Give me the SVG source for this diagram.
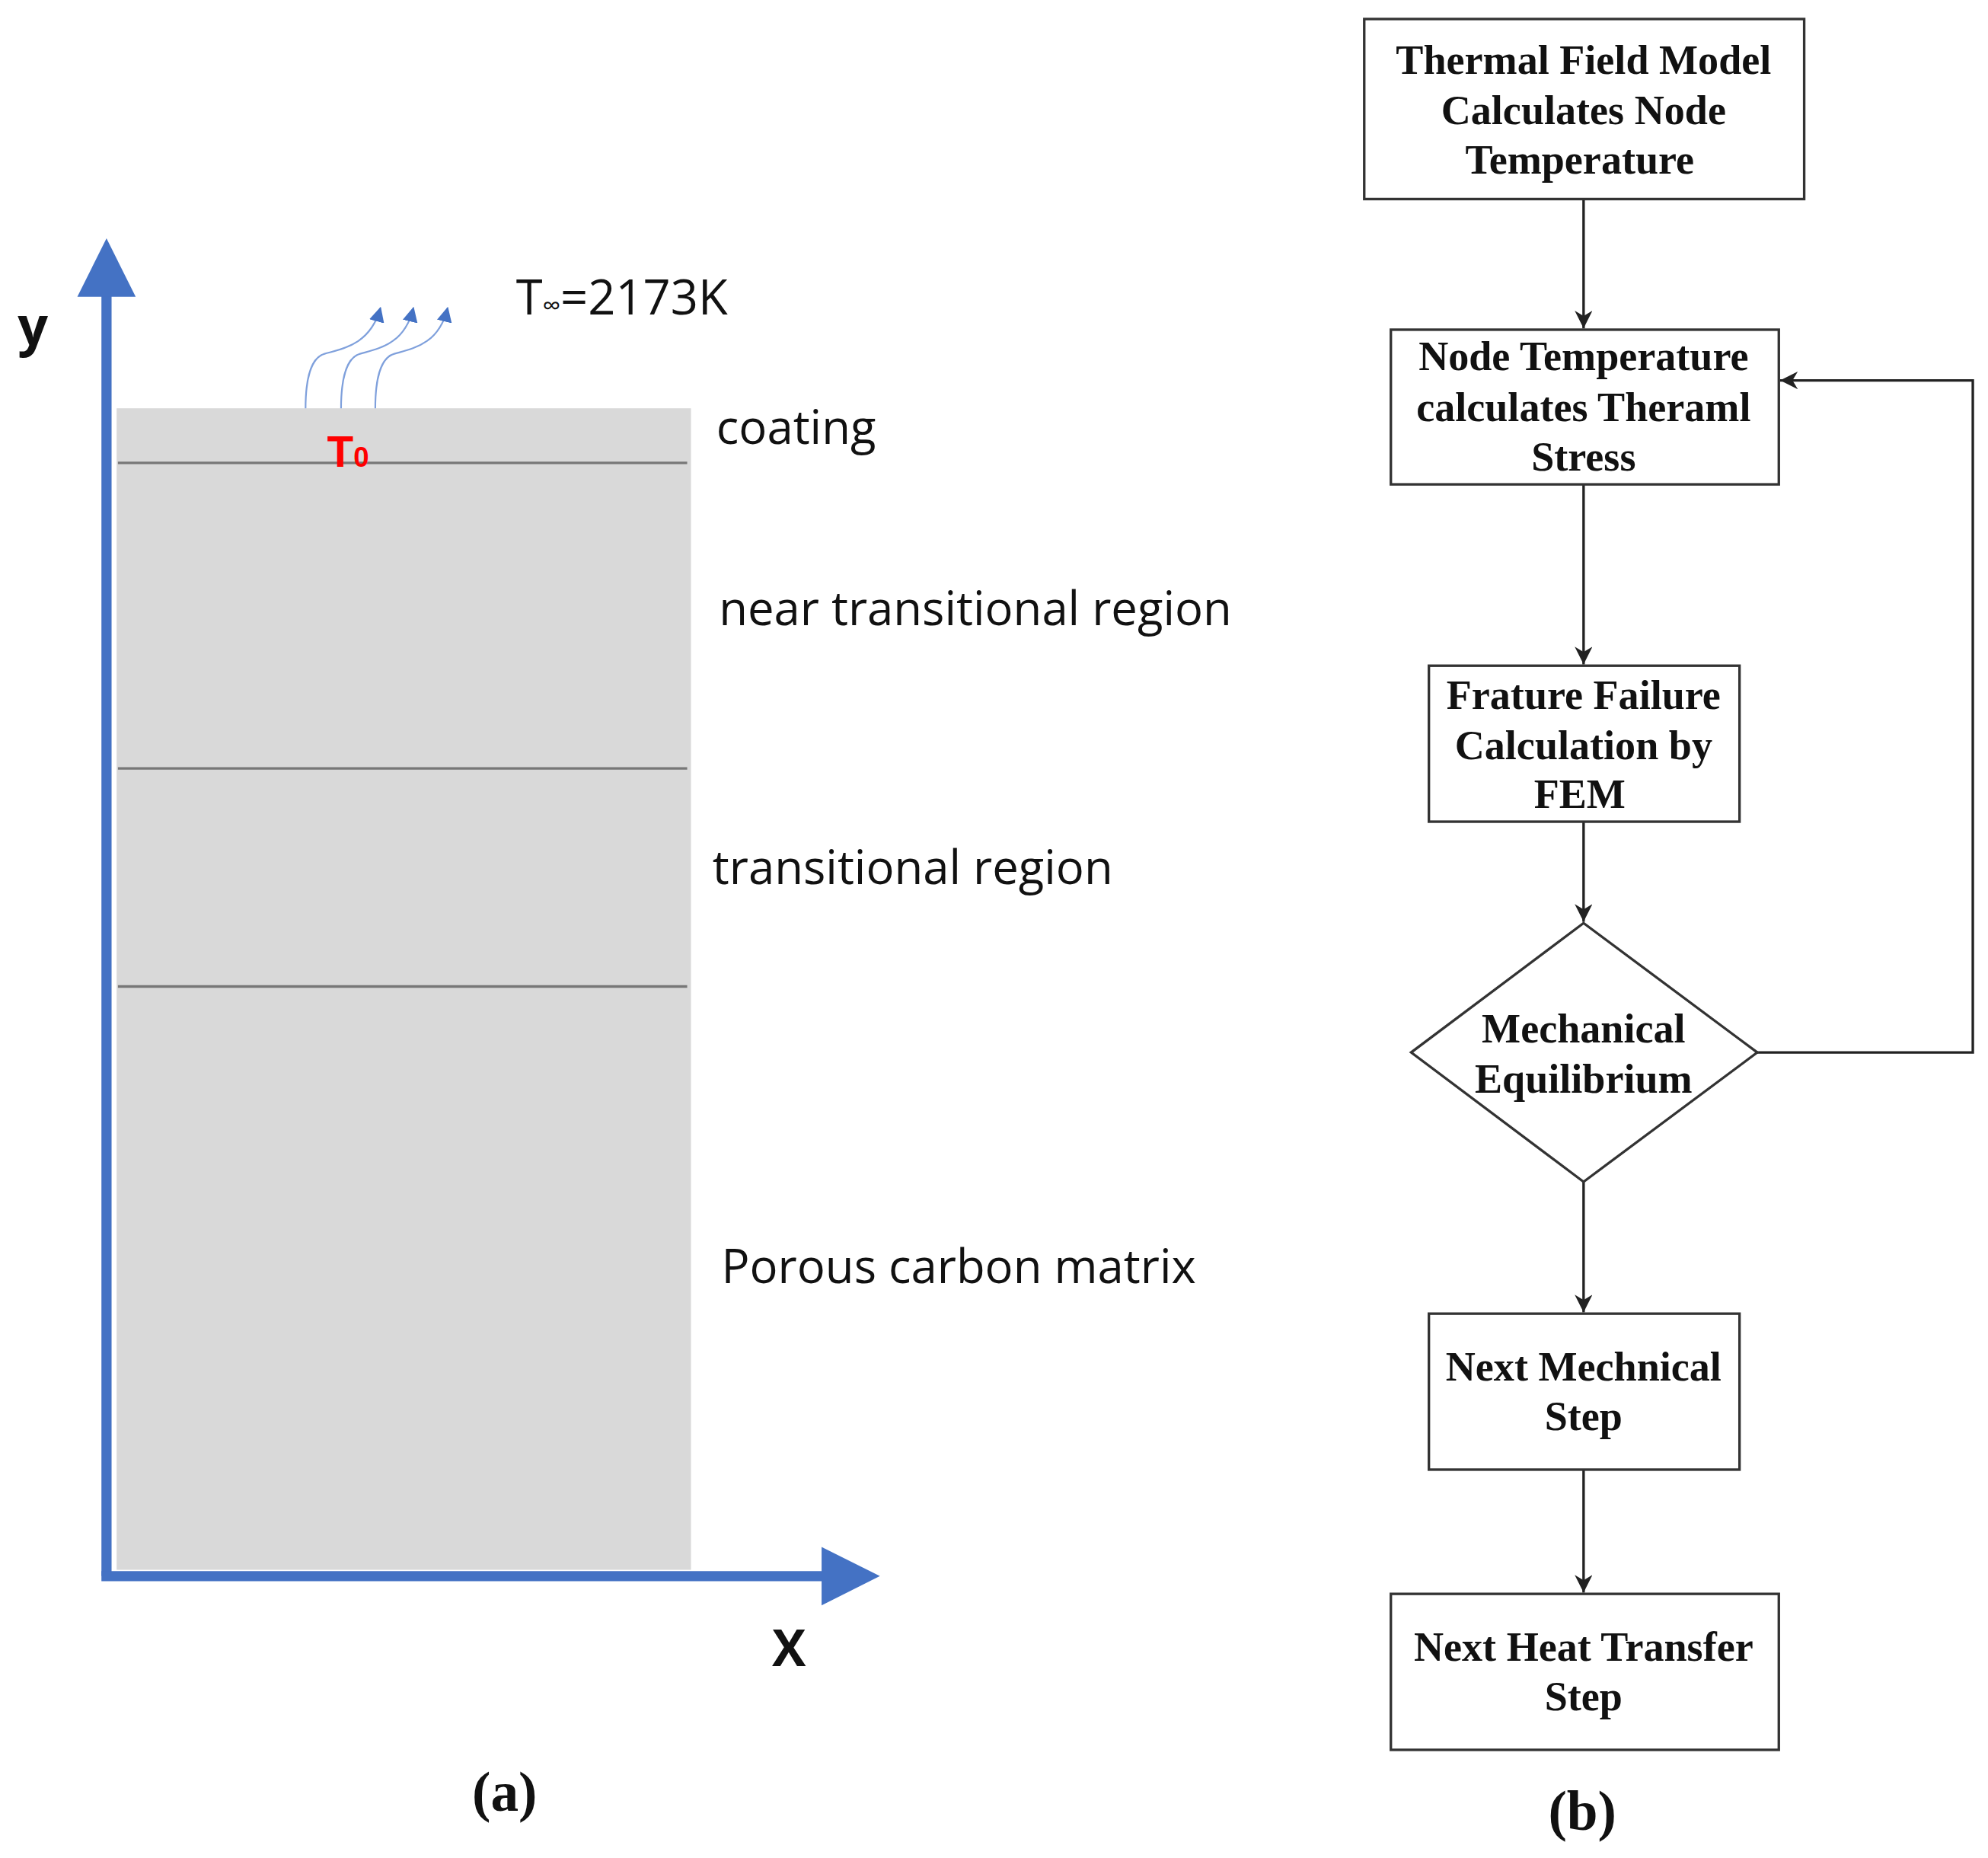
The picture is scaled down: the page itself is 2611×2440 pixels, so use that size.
<svg xmlns="http://www.w3.org/2000/svg" width="2611" height="2440" viewBox="0 0 2611 2440">
<defs>
<style>
.lbl{font-family:"Open Sans","Liberation Sans",Arial,sans-serif;font-weight:500;font-size:37px;fill:#111}
.ft{font-family:"Liberation Serif","Times New Roman",serif;font-weight:bold;font-size:32.5px;fill:#111;text-anchor:middle}
.bx{fill:#fff;stroke:#333;stroke-width:2}
.cn{fill:none;stroke:#222;stroke-width:2}
.band{stroke:#777;stroke-width:2}
.heat{fill:none;stroke:#7fa0dc;stroke-width:1.3}
</style>
<marker id="ah" viewBox="0 0 10 10" refX="10" refY="5" markerWidth="14" markerHeight="14" markerUnits="userSpaceOnUse" orient="auto"><path d="M0,0 L10,5 L0,10 L3,5 Z" fill="#222"/></marker>
<marker id="bh" viewBox="0 0 10 10" refX="9" refY="5" markerWidth="12" markerHeight="12" markerUnits="userSpaceOnUse" orient="auto"><path d="M0,0 L10,5 L0,10 Z" fill="#4472c4"/></marker>
</defs>
<rect width="2611" height="2440" fill="#fff"/>
<g transform="scale(1.6652)">
<g id="panel-a">
<rect x="92" y="322" width="453" height="916" fill="#d9d9d9"/>
<line class="band" x1="93" y1="365" x2="542" y2="365"/>
<line class="band" x1="93" y1="606" x2="542" y2="606"/>
<line class="band" x1="93" y1="778" x2="542" y2="778"/>
<line x1="84" y1="1243" x2="84" y2="230" stroke="#4472c4" stroke-width="8"/>
<polygon points="84,188 107,234 61,234" fill="#4472c4"/>
<line x1="80" y1="1243" x2="650" y2="1243" stroke="#4472c4" stroke-width="8"/>
<polygon points="694,1243 648,1220 648,1266" fill="#4472c4"/>
<text x="14" y="272" class="lbl" style="font-size:42px;font-weight:bold">y</text>
<text x="609" y="1314" class="lbl" style="font-size:40px;font-weight:bold">X</text>
<path class="heat" d="M241,322 C241,300 245,282 256,279 C270,275 292,272 300,243" marker-end="url(#bh)"/>
<path class="heat" d="M269,322 C269,300 273,282 284,279 C298,275 319,272 326,243" marker-end="url(#bh)"/>
<path class="heat" d="M296,322 C296,300 300,282 311,279 C325,275 346,272 353,243" marker-end="url(#bh)"/>
<text x="407" y="248" class="lbl" style="font-size:38px">T<tspan style="font-size:20px">∞</tspan>=2173K</text>
<text x="258" y="368" style="font-family:'Liberation Sans',Arial,sans-serif;font-weight:bold;font-size:34px;fill:#f00">T<tspan style="font-size:22px">0</tspan></text>
<text x="565" y="350" class="lbl">coating</text>
<text x="567" y="493" class="lbl">near transitional region</text>
<text x="562" y="697" class="lbl">transitional region</text>
<text x="569" y="1012" class="lbl">Porous carbon matrix</text>
<text x="398" y="1428" class="ft" style="font-size:44px">(a)</text>
</g>
<g id="connectors">
<line class="cn" x1="1249" y1="157" x2="1249" y2="259" marker-end="url(#ah)"/>
<line class="cn" x1="1249" y1="382" x2="1249" y2="524" marker-end="url(#ah)"/>
<line class="cn" x1="1249" y1="648" x2="1249" y2="727" marker-end="url(#ah)"/>
<line class="cn" x1="1249" y1="932" x2="1249" y2="1035" marker-end="url(#ah)"/>
<line class="cn" x1="1249" y1="1159" x2="1249" y2="1256" marker-end="url(#ah)"/>
<polyline class="cn" points="1386,830 1556,830 1556,300 1404,300" marker-end="url(#ah)"/>
</g>
<g id="n1"><rect class="bx" x="1076" y="15" width="347" height="142"/>
<text class="ft" x="1249" y="58">Thermal Field Model</text><text class="ft" x="1249" y="98">Calculates Node</text><text class="ft" x="1246" y="137">Temperature</text></g>
<g id="n2"><rect class="bx" x="1097" y="260" width="306" height="122"/>
<text class="ft" x="1249" y="292">Node Temperature</text><text class="ft" x="1249" y="332">calculates Theraml</text><text class="ft" x="1249" y="371">Stress</text></g>
<g id="n3"><rect class="bx" x="1127" y="525" width="245" height="123"/>
<text class="ft" x="1249" y="559">Frature Failure</text><text class="ft" x="1249" y="599">Calculation by</text><text class="ft" x="1246" y="637">FEM</text></g>
<g id="n4"><polygon class="bx" points="1249,728 1386,830 1249,932 1113,830"/>
<text class="ft" x="1249" y="822">Mechanical</text><text class="ft" x="1249" y="862">Equilibrium</text></g>
<g id="n5"><rect class="bx" x="1127" y="1036" width="245" height="123"/>
<text class="ft" x="1249" y="1089">Next Mechnical</text><text class="ft" x="1249" y="1128">Step</text></g>
<g id="n6"><rect class="bx" x="1097" y="1257" width="306" height="123"/>
<text class="ft" x="1249" y="1310">Next Heat Transfer</text><text class="ft" x="1249" y="1349">Step</text></g>
<text x="1248" y="1443" class="ft" style="font-size:44px">(b)</text>
</g>
</svg>
